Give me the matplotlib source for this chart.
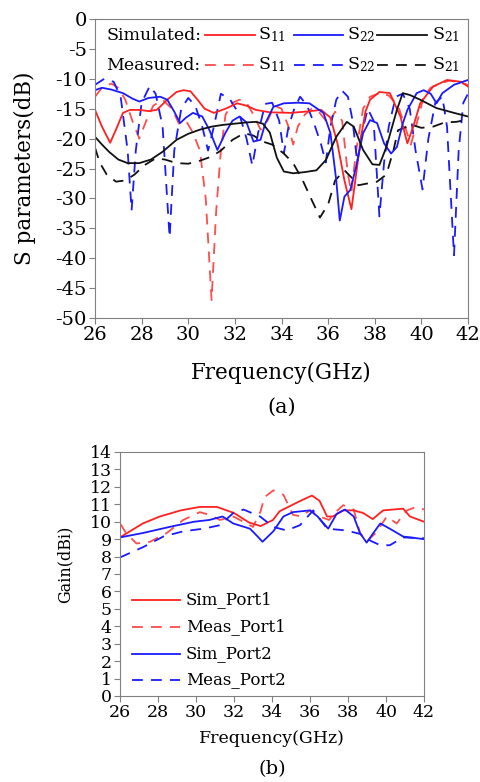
import matplotlib
matplotlib.use("Agg")
import matplotlib.pyplot as plt
from matplotlib.lines import Line2D

plt.rcParams['font.family'] = ['DejaVu Serif']
plt.rcParams['mathtext.fontset'] = 'dejavuserif'
plt.rcParams['axes.unicode_minus'] = False

# ---------------- (a) S parameters ----------------
sim_s11_x = [26.0, 26.3, 26.65, 26.9, 27.2, 27.5, 27.9, 28.3, 28.65, 29.1, 29.5, 29.8, 30.1, 30.4, 30.7,
             31.1, 31.6, 32.1, 32.5, 32.9, 33.5, 34.4, 35.0, 35.7, 36.1, 36.4, 36.7, 37.0, 37.2, 37.4,
             37.6, 37.8, 38.2, 38.65, 39.1, 39.4, 39.65, 39.95, 40.5, 41.1, 41.7, 42.0]
sim_s11_y = [-15.2, -18.0, -20.7, -18.5, -15.7, -15.2, -15.2, -15.4, -15.2, -13.5, -12.2, -11.9, -12.1, -13.5, -15.0,
             -15.7, -15.0, -14.1, -14.5, -15.2, -15.6, -15.7, -15.5, -15.2, -16.5, -20.8, -27.0, -31.8, -26.0, -20.0,
             -15.5, -13.5, -12.2, -12.4, -16.3, -20.8, -18.0, -14.1, -11.3, -10.2, -10.5, -11.3]

sim_s22_x = [26.0, 26.3, 26.7, 27.2, 27.6, 27.9, 28.3, 28.8, 29.1, 29.4, 29.65, 29.9, 30.2, 30.6, 30.9,
             31.25, 31.6, 31.9, 32.2, 32.5, 32.8, 33.1, 33.3, 33.65, 34.1, 34.7, 35.2, 35.8, 36.1, 36.35,
             36.5, 36.7, 36.95, 37.2, 37.5, 37.8, 38.1, 38.4, 38.7, 38.95, 39.2, 39.4, 39.8, 40.1, 40.4,
             40.65, 40.9, 41.4, 42.0]
sim_s22_y = [-11.9, -11.5, -11.8, -12.4, -13.3, -13.8, -13.2, -13.0, -13.5, -15.5, -17.4, -16.5, -15.7, -16.3, -18.5,
             -21.9, -19.0, -17.0, -16.3, -17.3, -20.5, -20.2, -17.5, -14.7, -14.1, -14.0, -14.1, -15.7, -19.1, -27.0,
             -33.7, -29.7, -28.6, -24.7, -19.1, -16.9, -17.4, -20.8, -22.5, -21.4, -17.5, -15.2, -12.4, -11.9, -12.5,
             -14.1, -12.4, -11.0, -10.2]

sim_s21_x = [26.0, 26.3, 26.6, 27.0, 27.4, 27.9, 28.4, 28.9, 29.5, 30.0, 30.5, 31.0, 31.5, 32.0, 32.5,
             32.9, 33.2, 33.5, 33.8, 34.1, 34.5, 35.0, 35.5, 35.9, 36.35, 36.8, 37.1, 37.5, 37.9, 38.2,
             38.5, 38.95, 39.2, 39.5, 39.95, 40.65, 41.4, 42.0]
sim_s21_y = [-19.7, -21.0, -22.2, -23.5, -24.1, -24.1, -23.5, -22.2, -20.2, -19.2, -18.5, -18.0, -17.7, -17.5, -17.3,
             -17.2, -17.5, -19.0, -23.2, -25.5, -25.8, -25.6, -25.3, -23.6, -19.7, -17.2, -18.0, -21.9, -24.3, -24.4,
             -21.4, -15.2, -12.4, -12.7, -13.5, -14.9, -15.7, -16.3]

meas_s11_x = [26.0, 26.3, 26.7, 27.0, 27.3, 27.6, 27.9, 28.2, 28.5, 28.9, 29.3, 29.6, 29.9, 30.2, 30.5,
              30.75, 31.0, 31.2, 31.4, 31.6, 31.9, 32.2, 32.5, 32.8, 33.1, 33.4, 33.7, 34.0, 34.3, 34.5,
              34.7, 35.0, 35.3, 35.6, 36.0, 36.3, 36.6, 36.85, 37.0, 37.2, 37.5, 37.8, 38.2, 38.6, 39.0,
              39.3, 39.55, 39.8, 40.1, 40.4, 40.8, 41.2, 41.6, 42.0]
meas_s11_y = [-13.0, -11.5, -10.8, -11.5, -13.5, -17.0, -20.0, -17.0, -14.5, -13.5, -15.0, -17.5, -17.0, -19.0, -22.0,
              -30.0, -47.0, -32.0, -22.0, -16.0, -14.0, -13.5, -14.0, -16.0, -18.5, -17.0, -14.5, -15.0, -18.0, -21.0,
              -18.0, -16.0, -15.0, -15.5, -17.5, -15.5, -17.0, -26.0, -29.0, -22.0, -15.0, -13.0, -12.4, -12.8, -14.5,
              -18.0, -21.0, -17.5, -13.0, -11.5, -10.8, -10.3, -10.6, -11.0]

meas_s22_x = [26.0, 26.4, 26.8, 27.1, 27.4, 27.57, 27.75, 28.0, 28.35, 28.6, 28.9, 29.2, 29.4, 29.7, 30.0,
              30.3, 30.6, 30.85, 31.1, 31.4, 31.8, 32.2, 32.5, 32.75, 33.0, 33.3, 33.6, 33.9, 34.1, 34.3,
              34.55, 34.8, 35.1, 35.4, 35.7, 35.9, 36.1, 36.35, 36.6, 36.85, 37.05, 37.25, 37.45, 37.7, 37.95,
              38.2, 38.4, 38.6, 38.9, 39.2, 39.5, 39.75, 40.05, 40.3, 40.6, 40.9, 41.1, 41.4, 41.6, 41.8, 42.0]
meas_s22_y = [-11.0, -10.0, -10.5, -13.0, -22.0, -32.0, -22.0, -14.0, -11.2, -12.5, -18.0, -36.5, -22.0, -15.0, -13.2,
              -14.5, -18.0, -22.0, -18.0, -12.5, -13.5, -16.0, -20.0, -24.5, -19.0, -14.2, -14.0, -17.0, -22.5, -18.0,
              -15.0, -13.0, -14.5, -17.5, -21.0, -24.0, -18.0, -13.5, -12.0, -13.0, -17.0, -24.0, -19.0, -15.0, -17.0,
              -33.0, -24.0, -18.0, -13.0, -12.5, -15.0, -22.0, -28.5, -20.0, -14.0, -13.0, -18.0, -39.5, -22.0, -14.0, -12.5]

meas_s21_x = [26.0, 26.2, 26.5, 26.9, 27.3, 27.7, 28.1, 28.6, 29.0, 29.5, 30.0, 30.5, 31.0, 31.4, 31.9,
              32.4, 32.8, 33.2, 33.6, 34.1, 34.5, 34.9, 35.3, 35.65, 36.0, 36.3, 36.7, 37.0, 37.3, 37.7,
              38.1, 38.5, 38.8, 39.0, 39.6, 40.0, 40.5, 41.0, 41.5, 42.0]
meas_s21_y = [-21.5, -24.0, -26.0, -27.2, -27.0, -26.0, -24.5, -23.3, -23.5, -24.1, -24.2, -23.7, -23.0, -22.0, -20.2,
              -19.1, -19.5, -20.5, -21.0, -22.5, -24.1, -26.9, -30.3, -33.2, -31.0, -27.0, -25.3, -26.5, -27.8, -27.5,
              -27.2, -26.0, -22.0, -18.6, -17.7, -18.2, -18.0, -17.3, -17.2, -16.8]

s_xticks = [26, 28, 30, 32, 34, 36, 38, 40, 42]
s_yticks = [0, -5, -10, -15, -20, -25, -30, -35, -40, -45, -50]

# ---------------- (b) Gain ----------------
sim_p1_x = [26, 27.2, 28.1, 29.2, 30.2, 31.1, 32.0, 32.8, 33.4, 34.05, 34.4, 35.5, 36.1, 36.5, 36.9,
            37.2, 37.75, 38.3, 38.8, 39.3, 39.85, 40.9, 41.26, 42]
sim_p1_y = [9.1, 9.9, 10.3, 10.65, 10.85, 10.85, 10.5, 9.95, 9.75, 10.1, 10.6, 11.2, 11.5, 11.2, 10.3,
            10.3, 10.65, 10.65, 10.5, 10.15, 10.65, 10.75, 10.3, 10.0]

meas_p1_x = [26, 26.35, 26.87, 27.58, 28.46, 29.33, 30.2, 30.7, 31.26, 31.96, 32.67, 33.0, 33.4, 33.6, 34.07,
             34.6, 35.1, 35.5, 36.0, 36.5, 37.0, 37.4, 37.75, 38.3, 38.63, 38.98, 39.5, 40.04, 40.56, 41.1,
             41.6, 42]
meas_p1_y = [9.9, 9.3, 8.75, 8.85, 9.35, 10.1, 10.55, 10.4, 10.1, 10.3, 9.9, 9.7, 10.6, 11.4, 11.8,
             11.55, 10.4, 10.3, 10.65, 10.3, 10.1, 10.6, 10.95, 10.7, 9.35, 8.85, 9.4, 10.3, 9.9, 10.65,
             10.85, 10.7]

sim_p2_x = [26, 27.2, 28.6, 29.9, 30.7, 31.4, 31.96, 32.84, 33.2, 33.5, 34.07, 34.6, 35.1, 36.0, 36.4,
            36.96, 37.4, 37.84, 38.3, 38.63, 38.98, 39.3, 39.7, 40.2, 40.9, 42]
sim_p2_y = [9.1, 9.35, 9.7, 10.0, 10.1, 10.3, 9.9, 9.6, 9.2, 8.85, 9.45, 10.3, 10.55, 10.65, 10.3,
            9.6, 10.45, 10.7, 10.3, 9.35, 8.8, 9.3, 9.9, 9.6, 9.15, 9.0]

meas_p2_x = [26, 27.23, 28.28, 29.33, 30.4, 31.26, 31.96, 32.5, 33.37, 34.07, 34.77, 35.47, 36.17, 36.9, 37.9,
             38.63, 39.2, 39.7, 40.2, 40.9, 42]
meas_p2_y = [7.95, 8.55, 9.15, 9.45, 9.6, 9.8, 10.5, 10.7, 10.3, 9.7, 9.5, 9.8, 10.65, 9.6, 9.5,
             9.3, 8.9, 8.65, 8.65, 9.1, 9.05]

g_xticks = [26, 28, 30, 32, 34, 36, 38, 40, 42]
g_yticks = list(range(0, 15))
g_labels = ['Sim_Port1', 'Meas_Port1', 'Sim_Port2', 'Meas_Port2']

RED = '#ff2020'
BLUE = '#1a1aff'
BLACK = '#111111'
SPINE = '#808080'
DASH = (0, (6, 4.5))
LW = 1.3

fig = plt.figure(figsize=(4.8, 7.82), dpi=100)

# ---- top axes ----
ax = fig.add_axes([95/480, 1-318/782, (468-95)/480, (318-19)/782])
ax.plot(meas_s11_x, meas_s11_y, color=RED, lw=LW, ls=DASH, alpha=0.8)
ax.plot(meas_s22_x, meas_s22_y, color=BLUE, lw=LW, ls=DASH)
ax.plot(meas_s21_x, meas_s21_y, color=BLACK, lw=LW, ls=DASH)
ax.plot(sim_s11_x, sim_s11_y, color=RED, lw=LW)
ax.plot(sim_s22_x, sim_s22_y, color=BLUE, lw=LW)
ax.plot(sim_s21_x, sim_s21_y, color=BLACK, lw=LW)
ax.set_xlim(26, 42)
ax.set_ylim(-50, 0)
ax.set_xticks(s_xticks)
ax.set_yticks(s_yticks)
ax.tick_params(labelsize=14, direction='out', length=4, color=SPINE, pad=2)
for sp in ax.spines.values():
    sp.set_color(SPINE)
ax.set_xlabel('Frequency(GHz)', fontsize=15.5)
ax.xaxis.set_label_coords(0.5, -0.147)
ax.set_ylabel('S parameters(dB)', fontsize=15.5)
ax.yaxis.set_label_coords(-0.158, 0.5)
ax.text(0.5, -0.30, '(a)', transform=ax.transAxes, ha='center', va='center', fontsize=15)

def fx(px):
    return (px - 95) / 373

def fy(py):
    return 1 - (py - 19) / 299

rows = [('Simulated:', 35, '-'), ('Measured:', 65, DASH)]
items = [(RED, '11', 205, 255, 258), (BLUE, '22', 294, 343, 347), (BLACK, '21', 377, 427, 432)]
for lab, py, ls in rows:
    ax.text(fx(106), fy(py), lab, transform=ax.transAxes, ha='left', va='center', fontsize=12.5)
    for col, sub, x0, x1, xt in items:
        ax.add_line(Line2D([fx(x0), fx(x1)], [fy(py), fy(py)], transform=ax.transAxes,
                           color=col, lw=LW, ls=ls, alpha=0.8 if (col == RED and ls != '-') else 1))
        ax.text(fx(xt), fy(py), 'S$_{' + sub + '}$', transform=ax.transAxes, ha='left',
                va='center', fontsize=12.5)

# ---- bottom axes ----
bx = fig.add_axes([120/480, 1-696/782, (424-120)/480, (696-452)/782])
bx.plot(sim_p1_x, sim_p1_y, color=RED, lw=LW)
bx.plot(meas_p1_x, meas_p1_y, color=RED, lw=LW, ls=DASH, alpha=0.8)
bx.plot(sim_p2_x, sim_p2_y, color=BLUE, lw=LW)
bx.plot(meas_p2_x, meas_p2_y, color=BLUE, lw=LW, ls=DASH)
bx.set_xlim(26, 42)
bx.set_ylim(0, 14)
bx.set_xticks(g_xticks)
bx.set_yticks(g_yticks)
bx.tick_params(labelsize=12.5, direction='out', length=4, color=SPINE, pad=2)
for sp in bx.spines.values():
    sp.set_color(SPINE)
bx.set_xlabel('Frequency(GHz)', fontsize=12.5)
bx.xaxis.set_label_coords(0.5, -0.14)
bx.set_ylabel('Gain(dBi)', fontsize=11.5)
bx.yaxis.set_label_coords(-0.154, 0.54)
bx.text(0.5, -0.30, '(b)', transform=bx.transAxes, ha='center', va='center', fontsize=14)

def gx(px):
    return (px - 120) / 304

def gy(py):
    return (696 - py) / 244

leg_styles = [(RED, '-', 1.0), (RED, DASH, 0.8), (BLUE, '-', 1.0), (BLUE, DASH, 1.0)]
for lab, (col, ls, al), py in zip(g_labels, leg_styles, [600, 627, 654, 680]):
    bx.add_line(Line2D([gx(132), gx(180)], [gy(py), gy(py)], transform=bx.transAxes,
                       color=col, lw=LW, ls=ls, alpha=al))
    bx.text(gx(186), gy(py), lab, transform=bx.transAxes, ha='left', va='center', fontsize=12)

fig.savefig('out.png', dpi=100)
